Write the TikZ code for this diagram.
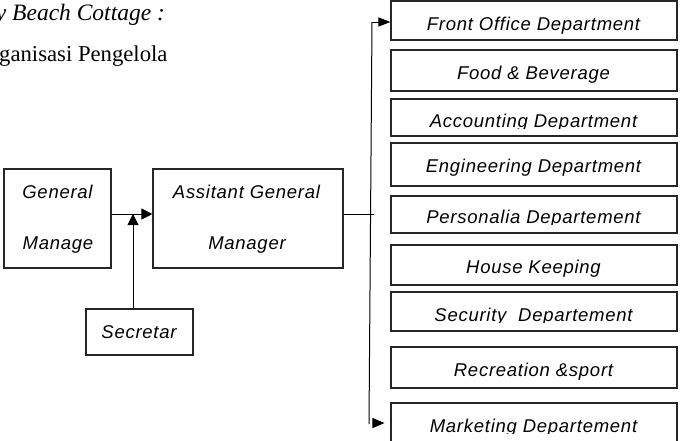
\documentclass[tikz,border=0pt]{standalone}
\usepackage{fontspec}
\setmainfont{Liberation Serif}
\newfontfamily\boxfont[LetterSpace=4]{Liberation Sans}
\usetikzlibrary{arrows.meta}
\begin{document}
\begin{tikzpicture}[x=1pt,y=-1pt,
  box/.style={draw=black!85, line width=1.1pt, inner sep=0pt},
  lbl/.style={inner sep=0pt, anchor=base, font=\boxfont\itshape\fontsize{18.5}{22}\selectfont},
  head/.style={inner sep=0pt, anchor=base west},
  line/.style={line width=1pt, draw=black},
  arrbig/.style={line width=1pt, -{Triangle[length=11pt,width=11pt]}},
  arrsmall/.style={line width=1pt, -{Triangle[length=12pt,width=9pt]}}]
\clip (0,0) rectangle (686,440);
% heading
\node[head, font=\fontsize{23.5}{27}\selectfont\itshape] (h1) at (-4.3,20) {y Beach Cottage :};
\node[head, font=\fontsize{22.7}{27}\selectfont] (h2) at (-1,61) {ganisasi Pengelola};
% left boxes
\node[box, minimum width=107pt, minimum height=99pt] (gm) at (57.5,218.5) {};
\node[box, minimum width=190pt, minimum height=99pt] (agm) at (248,218.5) {};
\node[box, minimum width=107pt, minimum height=46pt] (sec) at (139.5,332) {};
\node[lbl] (gm1) at (57.5,198) {General};
\node[lbl] (gm2) at (58,249) {Manage};
\node[lbl] (agm1) at (246.5,198) {Assitant General};
\node[lbl] (agm2) at (247,249) {Manager};
\node[lbl] (sect) at (139,338) {Secretar};
% right boxes
\node[box, minimum width=286pt, minimum height=39pt] (fo) at (534,20.5) {};
\node[box, minimum width=286pt, minimum height=41pt] (fb) at (534,70.5) {};
\node[box, minimum width=286pt, minimum height=37pt] (acc) at (534,117.5) {};
\node[box, minimum width=286pt, minimum height=43pt] (eng) at (534,164.5) {};
\node[box, minimum width=286pt, minimum height=37pt] (per) at (534,214.5) {};
\node[box, minimum width=286pt, minimum height=40pt] (hk) at (534,265) {};
\node[box, minimum width=286pt, minimum height=39pt] (sd) at (534,311.5) {};
\node[box, minimum width=286pt, minimum height=41pt] (rec) at (534,367.5) {};
\node[box, minimum width=286pt, minimum height=47pt] (mkt) at (534,426.5) {};
\node[lbl] (fot) at (533.5,30) {Front Office Department};
\node[lbl] (fbt) at (533.5,79) {Food \& Beverage};
\begin{scope}
\clip (391,99) rectangle (677,128.5);
\node[lbl] (acct) at (533.5,127) {Accounting Department};
\end{scope}
\node[lbl] (engt) at (533.5,172) {Engineering Department};
\begin{scope}
\clip (391,196) rectangle (677,224.5);
\node[lbl] (pert) at (533.5,223) {Personalia Departement};
\end{scope}
\begin{scope}
\clip (391,245) rectangle (677,277.5);
\node[lbl] (hkt) at (533.5,273) {House Keeping};
\end{scope}
\begin{scope}
\clip (391,292) rectangle (677,322.5);
\node[lbl] (sdt) at (533.5,321) {Security\ \ Departement};
\end{scope}
\node[lbl] (rect) at (533.5,376) {Recreation \&sport};
\begin{scope}
\clip (391,403) rectangle (677,433.5);
\node[lbl] (mktt) at (533.5,432) {Marketing Departement};
\end{scope}
% connectors
\coordinate (j) at (133,214);
\coordinate (hb) at (374,214);
\coordinate (bt) at (372,22);
\coordinate (bb) at (369,424);
\coordinate (ms) at (373,423);
\draw[arrbig] (gm.east |- j) -- (agm.west |- j);
\draw[arrbig] (j |- sec.north) -- (j);
\draw[line] (agm.east |- j) -- (hb);
\draw[line] (bt) -- (bb);
\draw[arrsmall] (bt) -- (bt -| fo.west);
\draw[line width=1pt, -{Triangle[length=12pt,width=10pt]}, shorten >=6pt] (ms) -- (ms -| mkt.west);
\end{tikzpicture}
\end{document}
